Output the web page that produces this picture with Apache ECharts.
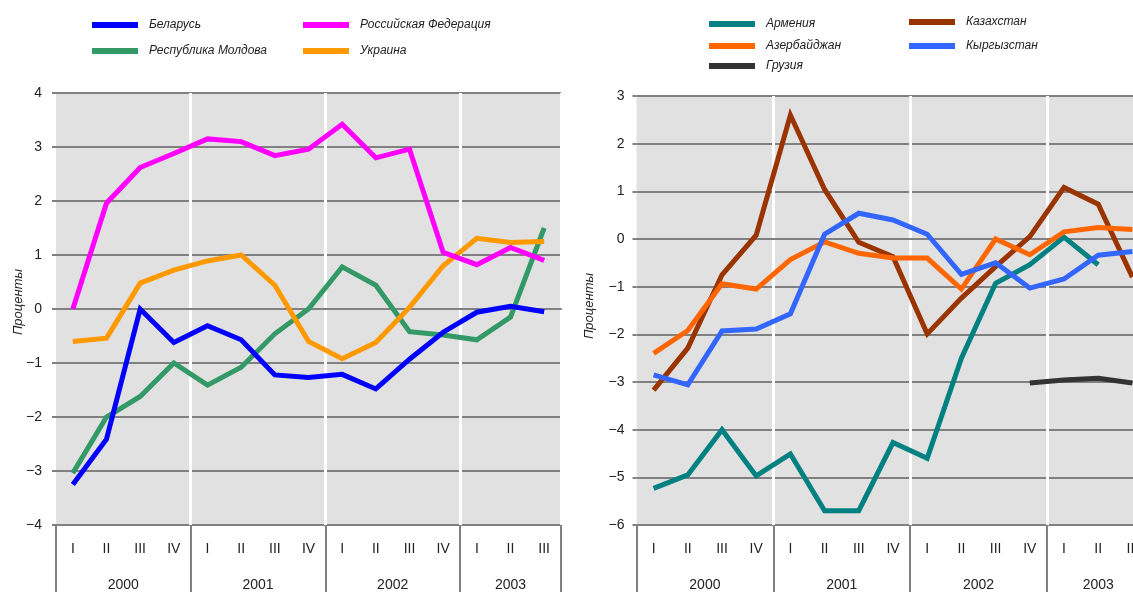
<!DOCTYPE html>
<html><head><meta charset="utf-8">
<script src="https://cdn.jsdelivr.net/npm/echarts@6/dist/echarts.min.js"></script>
<style>html,body{margin:0;padding:0;background:#fff}#c{width:1133px;height:592px}</style>
</head><body><div id="c"></div>
<script>
// ---- data ----
const years = ['2000', '2001', '2002', '2003'];
const quartersPerYear = [4, 4, 4, 3];
const romans = ['I', 'II', 'III', 'IV'];

// Left panel
const belarus  = [-3.25, -2.41, 0.0, -0.62, -0.31, -0.57, -1.22, -1.27, -1.21, -1.48, -0.93, -0.43, -0.06, 0.05, -0.05];
const russia   = [0.0, 1.96, 2.62, 2.88, 3.15, 3.1, 2.84, 2.96, 3.42, 2.8, 2.96, 1.05, 0.82, 1.14, 0.9];
const moldova  = [-3.04, -2.0, -1.62, -1.0, -1.41, -1.08, -0.46, 0.0, 0.78, 0.44, -0.42, -0.48, -0.57, -0.15, 1.5];
const ukraine  = [-0.6, -0.54, 0.48, 0.72, 0.89, 1.0, 0.44, -0.6, -0.92, -0.62, 0.03, 0.8, 1.31, 1.23, 1.25];

// Right panel
const armenia    = [-5.23, -4.95, -4.0, -4.97, -4.51, -5.7, -5.7, -4.27, -4.6, -2.5, -0.93, -0.54, 0.04, -0.54, null];
const azerbaijan = [-2.4, -1.92, -0.94, -1.05, -0.43, -0.06, -0.3, -0.4, -0.4, -1.05, 0.0, -0.33, 0.15, 0.24, 0.2];
const georgia    = [null, null, null, null, null, null, null, null, null, null, null, -3.02, -2.96, -2.92, -3.02];
const kazakhstan = [-3.17, -2.29, -0.75, 0.08, 2.6, 1.04, -0.07, -0.37, -1.99, -1.24, -0.58, 0.05, 1.08, 0.73, -0.8];
const kyrgyzstan = [-2.85, -3.06, -1.93, -1.89, -1.57, 0.1, 0.54, 0.4, 0.1, -0.74, -0.5, -1.03, -0.84, -0.34, -0.26];

const leftTicks = { min: -4, max: 4, interval: 1 };
const rightTicks = { min: -6, max: 3, interval: 1 };

// ---- derived ----
const cats = [];
years.forEach((y, yi) => { for (let q = 0; q < quartersPerYear[yi]; q++) cats.push(y + '-' + romans[q]); });
const total = cats.length;
const bounds = [0]; quartersPerYear.forEach(n => bounds.push(bounds[bounds.length - 1] + n));
const centers = years.map((y, i) => (bounds[i] + bounds[i + 1]) / 2);
const boundaryIdx = bounds.slice(1, -1);

const GRID_COLOR = '#808080';
const FONT = 'Liberation Sans, Arial, sans-serif';
const minus = v => String(v).replace('-', '\u2212');

function catAxis(gi) {
  return {
    type: 'category', gridIndex: gi, data: cats, boundaryGap: true, z: 3,
    axisLine: { show: true, lineStyle: { color: GRID_COLOR, width: 2 } },
    axisTick: { show: false },
    axisLabel: { interval: 0, margin: 17, fontFamily: FONT, fontSize: 14, color: '#222',
      formatter: v => v.split('-')[1] },
    splitLine: { show: true, interval: (i) => boundaryIdx.indexOf(i) >= 0,
      lineStyle: { color: '#ffffff', width: 3 } }
  };
}
function decoAxis(gi) {
  return {
    type: 'value', gridIndex: gi, min: 0, max: total, position: 'bottom', z: 3,
    axisLine: { show: false },
    axisTick: { show: true, customValues: bounds, length: 70, lineStyle: { color: GRID_COLOR, width: 2 } },
    axisLabel: { show: true, customValues: centers, margin: 53, fontFamily: FONT, fontSize: 14, color: '#222',
      formatter: v => { const i = centers.indexOf(v); return i >= 0 ? years[i] : ''; } },
    splitLine: { show: false }
  };
}
function valAxis(gi, t, margin) {
  return {
    type: 'value', gridIndex: gi, min: t.min, max: t.max, interval: t.interval, z: 2,
    axisLine: { show: false },
    axisTick: { show: true, length: 4, lineStyle: { color: GRID_COLOR, width: 2 } },
    axisLabel: { margin: margin, fontFamily: FONT, fontSize: 14, color: '#222', formatter: minus },
    splitLine: { show: true, lineStyle: { color: GRID_COLOR, width: 2 } }
  };
}
function line(name, data, color, xi, yi) {
  return { name, type: 'line', data, xAxisIndex: xi, yAxisIndex: yi, symbol: 'none',
    connectNulls: false, lineStyle: { color, width: 5, cap: 'butt', join: 'miter' },
    itemStyle: { color }, emphasis: { disabled: true }, z: 5 };
}
function legendItem(name, left, centerY) {
  return { data: [name], left: left, top: centerY - 8, padding: 0, icon: 'rect',
    itemWidth: 46, itemHeight: 6, selectedMode: false,
    textStyle: { fontFamily: FONT, fontSize: 12, fontStyle: 'italic', color: '#222', lineHeight: 16,
      padding: [0, 0, 0, 6] } };
}

const option = {
  animation: false,
  backgroundColor: '#ffffff',
  grid: [
    { left: 56, top: 93, width: 505, height: 432, show: true, backgroundColor: '#e1e1e1', borderWidth: 0,
      outerBoundsMode: 'none', containLabel: false },
    { left: 636.5, top: 96, width: 513, height: 429, show: true, backgroundColor: '#e1e1e1', borderWidth: 0,
      outerBoundsMode: 'none', containLabel: false }
  ],
  xAxis: [catAxis(0), decoAxis(0), catAxis(1), decoAxis(1)],
  yAxis: [valAxis(0, leftTicks, 14), valAxis(1, rightTicks, 12)],
  legend: [
    legendItem('Беларусь', 92, 25),
    legendItem('Республика Молдова', 92, 51),
    legendItem('Российская Федерация', 303, 25),
    legendItem('Украина', 303, 51),
    legendItem('Армения', 709, 24),
    legendItem('Азербайджан', 709, 46),
    legendItem('Грузия', 709, 66),
    legendItem('Казахстан', 909, 22),
    legendItem('Кыргызстан', 909, 46)
  ],
  graphic: [
    { type: 'text', x: 18, y: 302, rotation: Math.PI / 2,
      style: { text: 'Проценты', font: 'italic 13px ' + FONT, fill: '#222', align: 'center', verticalAlign: 'middle' } },
    { type: 'text', x: 589, y: 306, rotation: Math.PI / 2,
      style: { text: 'Проценты', font: 'italic 13px ' + FONT, fill: '#222', align: 'center', verticalAlign: 'middle' } }
  ],
  series: [
    line('Республика Молдова', moldova, '#339966', 0, 0),
    line('Украина', ukraine, '#ff9900', 0, 0),
    line('Российская Федерация', russia, '#ff00ff', 0, 0),
    line('Беларусь', belarus, '#0000ff', 0, 0),
    line('Армения', armenia, '#008080', 2, 1),
    line('Грузия', georgia, '#333333', 2, 1),
    line('Казахстан', kazakhstan, '#993300', 2, 1),
    line('Азербайджан', azerbaijan, '#ff6600', 2, 1),
    line('Кыргызстан', kyrgyzstan, '#3366ff', 2, 1)
  ]
};
const chart = echarts.init(document.getElementById('c'), null, { renderer: 'canvas' });
chart.setOption(option);
</script>
</body></html>
